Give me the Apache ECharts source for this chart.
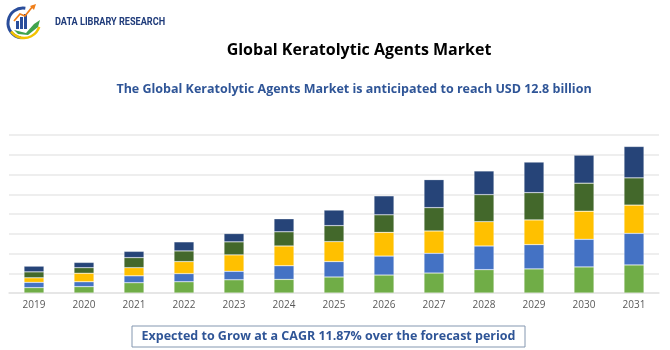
<!DOCTYPE html>
<html>
<head>
<meta charset="utf-8">
<script src="https://cdn.jsdelivr.net/npm/echarts@6/dist/echarts.min.js"></script>
<style>
  html, body { margin: 0; padding: 0; background: #fff; }
  #chart { width: 670px; height: 350px; }
</style>
</head>
<body>
<div id="chart"></div>
<script>
// years on the x axis
const years = ['2019', '2020', '2021', '2022', '2023', '2024', '2025', '2026', '2027', '2028', '2029', '2030', '2031'];

// stacked segments, bottom to top (gridline units)
const seg1 = [0.27, 0.32, 0.52, 0.57, 0.67, 0.69, 0.81, 0.91, 1.01, 1.18, 1.22, 1.32, 1.42];
const seg2 = [0.27, 0.25, 0.35, 0.41, 0.43, 0.69, 0.78, 0.96, 1.00, 1.20, 1.23, 1.40, 1.60];
const seg3 = [0.23, 0.43, 0.41, 0.61, 0.83, 1.00, 1.01, 1.20, 1.13, 1.23, 1.25, 1.42, 1.43];
const seg4 = [0.30, 0.28, 0.51, 0.54, 0.66, 0.72, 0.81, 0.89, 1.18, 1.37, 1.38, 1.42, 1.38];
const seg5 = [0.29, 0.27, 0.32, 0.46, 0.42, 0.66, 0.79, 0.96, 1.42, 1.20, 1.55, 1.42, 1.59];

const colors = ['#70AD47', '#4472C4', '#FFC000', '#43682B', '#264478'];

const title = 'Global Keratolytic Agents Market';
const subtitle = 'The Global Keratolytic Agents Market is anticipated to reach USD 12.8 billion';
const footnote = 'Expected to Grow at a CAGR 11.87% over the forecast period';

var chart = echarts.init(document.getElementById('chart'));

function barSeries (data, i) {
  return {
    type: 'bar',
    stack: 'total',
    barWidth: 20,
    data: data,
    itemStyle: {
      color: colors[i],
      borderColor: 'rgba(255,255,255,0.35)',
      borderWidth: 0.6
    },
    emphasis: { disabled: true }
  };
}

chart.setOption({
  animation: false,
  grid: { left: 9, right: 11, top: 135, bottom: 57 },
  xAxis: {
    type: 'category',
    data: years,
    axisLine: { lineStyle: { color: '#e3e3e3', width: 1.5 } },
    axisTick: { show: false },
    axisLabel: { color: '#595959', fontSize: 10, margin: 7, fontFamily: 'Open Sans' }
  },
  yAxis: {
    type: 'value',
    min: 0,
    max: 8,
    interval: 1,
    axisLabel: { show: false },
    axisLine: { show: false },
    axisTick: { show: false },
    splitLine: { lineStyle: { color: '#e8e8e8', width: 1.5 } }
  },
  series: [seg1, seg2, seg3, seg4, seg5].map(barSeries),
  graphic: [
    // logo
    { type: 'arc', shape: { cx: 23, cy: 23, r: 15, startAngle: Math.PI * 0.55, endAngle: Math.PI * 1.55 },
      style: { stroke: '#2a4d9b', lineWidth: 3, fill: null } },
    { type: 'arc', shape: { cx: 24, cy: 22, r: 16, startAngle: Math.PI * 0.1, endAngle: Math.PI * 0.8 },
      style: { stroke: '#f2c200', lineWidth: 2.5, fill: null } },
    { type: 'rect', shape: { x: 16, y: 21, width: 3, height: 8 }, style: { fill: '#2a4d9b' } },
    { type: 'rect', shape: { x: 20, y: 17, width: 3, height: 12 }, style: { fill: '#2a4d9b' } },
    { type: 'rect', shape: { x: 24, y: 14, width: 3, height: 15 }, style: { fill: '#2a4d9b' } },
    { type: 'polyline', shape: { points: [[14, 21], [20, 14], [25, 16], [33, 6]] },
      style: { stroke: '#f07f1a', lineWidth: 1.8, fill: null } },
    { type: 'polygon', shape: { points: [[30, 6], [36, 4], [34, 10]] }, style: { fill: '#f07f1a' } },
    { type: 'polygon', shape: { points: [[14, 30], [26, 33], [34, 24], [40, 20], [38, 27], [28, 35], [18, 34]] },
      style: { fill: '#3fa34d' } },
    { type: 'text', x: 55, y: 22, scaleX: 0.83,
      style: { text: 'DATA LIBRARY RESEARCH', fill: '#1f3b7a', font: 'bold 11px "Roboto", sans-serif', verticalAlign: 'middle' } },
    // titles
    { type: 'text', x: 359, y: 50,
      style: { text: title, fill: '#000', font: 'bold 16px "Open Sans", sans-serif', align: 'center', verticalAlign: 'middle' } },
    { type: 'text', x: 354, y: 89.5,
      style: { text: subtitle, fill: '#2f5597', font: 'bold 12.5px "Open Sans", sans-serif', align: 'center', verticalAlign: 'middle' } },
    // footnote box
    { type: 'rect', shape: { x: 132, y: 326, width: 393, height: 21 },
      style: { fill: '#fff', stroke: '#8497b0', lineWidth: 1 } },
    { type: 'text', x: 328.5, y: 336.5,
      style: { text: footnote, fill: '#2f5597', font: 'bold 12.5px "Open Sans", sans-serif', align: 'center', verticalAlign: 'middle' } }
  ]
});
</script>
</body>
</html>
